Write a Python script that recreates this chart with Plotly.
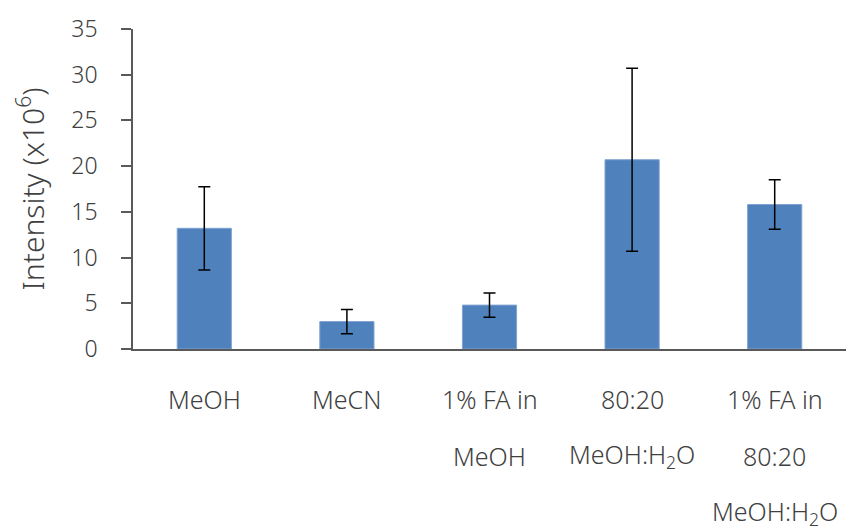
import plotly.graph_objects as go

categories = ["MeOH", "MeCN", "1% FA in MeOH", "80:20 MeOH:H2O", "1% FA in 80:20 MeOH:H2O"]
label_lines = [
    ["MeOH"],
    ["MeCN"],
    ["1% FA in", "MeOH"],
    ["80:20", "MeOH:H<sub>2</sub>O"],
    ["1% FA in", "80:20", "MeOH:H<sub>2</sub>O"],
]
intensity = [13.2, 3.0, 4.8, 20.7, 15.8]
error = [4.55, 1.33, 1.33, 10.0, 2.7]
y_ticks = [0, 5, 10, 15, 20, 25, 30, 35]

FONT = "Noto Sans"
TXT = "#404040"

fig = go.Figure()
fig.add_trace(go.Bar(
    x=categories,
    y=intensity,
    marker=dict(color="#4F81BD", line=dict(color="#7FA3D0", width=1)),
    width=0.38,
    error_y=dict(type="data", array=error, visible=True, color="#000000",
                 thickness=1.5, width=6),
    showlegend=False,
))

annotations = []
for cat, lines in zip(categories, label_lines):
    for i, line in enumerate(lines):
        annotations.append(dict(
            x=cat, y=0, xref="x", yref="y", text=line, showarrow=False,
            yshift=-(50 + 56.5 * i), yanchor="middle", xanchor="center",
            font=dict(family=FONT, size=25, color=TXT, weight=300),
        ))

fig.update_layout(
    width=852, height=530,
    margin=dict(l=133, r=6, t=29, b=181),
    paper_bgcolor="white", plot_bgcolor="white",
    annotations=annotations,
    xaxis=dict(
        showticklabels=False, showline=True, linecolor="#595959", linewidth=1.5,
        ticks="", showgrid=False, zeroline=False,
    ),
    yaxis=dict(
        range=[0, 35], tickvals=y_ticks, showline=True, linecolor="#595959",
        linewidth=1.5, ticks="outside", ticklen=10, tickcolor="#595959",
        tickwidth=1.5, showgrid=False, zeroline=False, ticklabelstandoff=19,
        tickfont=dict(family=FONT, size=23, color=TXT, weight=300),
        title=dict(text="Intensity (x10<sup>6</sup>)",
                   font=dict(family=FONT, size=30, color=TXT, weight=300), standoff=18),
    ),
)

fig.write_html("out.html")
